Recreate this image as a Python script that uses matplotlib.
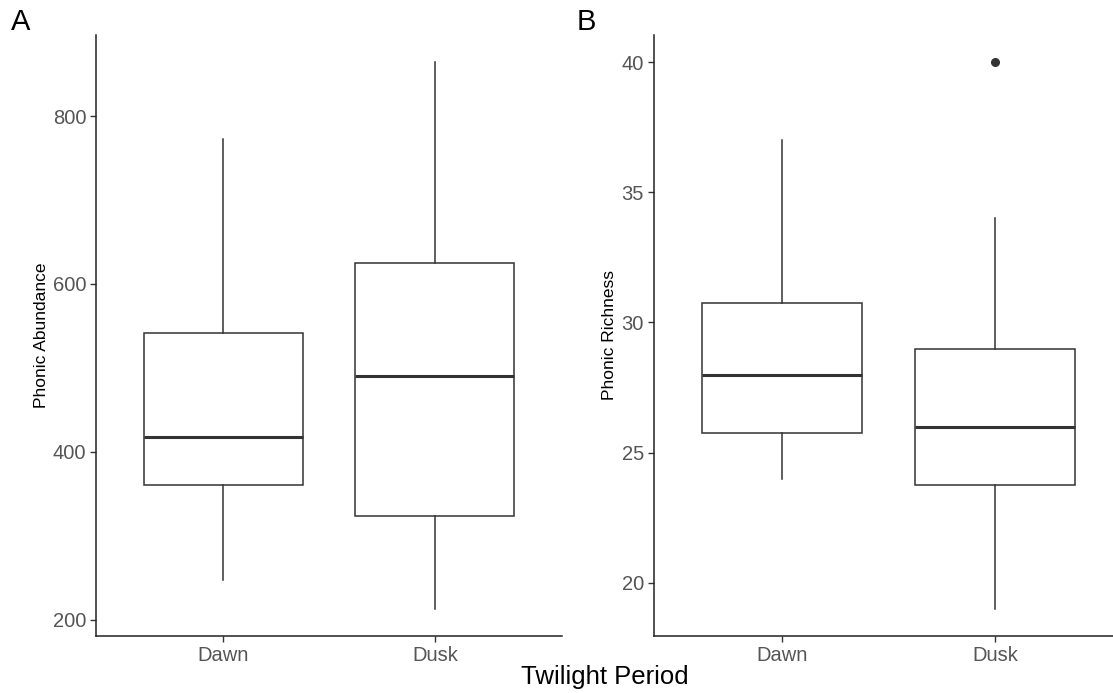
import matplotlib
matplotlib.use("Agg")
import matplotlib.pyplot as plt

plt.rcParams['font.family'] = ['Liberation Sans', 'DejaVu Sans']

# twilight periods on the x axis
periods = ["Dawn", "Dusk"]

# panel A - phonic abundance, box stats
abund_low = [247, 213]
abund_q1 = [360, 324]
abund_med = [418, 490]
abund_q3 = [541, 625]
abund_high = [773, 864]
abund_out = [[], []]

# panel B - phonic richness
rich_low = [24, 19]
rich_q1 = [25.75, 23.75]
rich_med = [28, 26]
rich_q3 = [30.75, 29]
rich_high = [37, 34]
rich_out = [[], [40]]


def make_stats(low, q1, med, q3, high, out):
    stats = []
    for i in range(len(periods)):
        stats.append(dict(label=periods[i], whislo=low[i], q1=q1[i], med=med[i],
                          q3=q3[i], whishi=high[i], fliers=out[i]))
    return stats


def draw_panel(ax, stats, ylab, yticks, labx):
    ink = "#333333"
    ax.bxp(stats, positions=[1, 2], widths=0.75, showcaps=False, patch_artist=True,
           boxprops=dict(facecolor="white", edgecolor=ink, linewidth=1.1),
           whiskerprops=dict(color=ink, linewidth=1.1),
           medianprops=dict(color=ink, linewidth=2.2, solid_capstyle="butt"),
           flierprops=dict(marker="o", markerfacecolor=ink, markeredgecolor=ink,
                           markersize=5.5))
    lo = min(s["whislo"] for s in stats)
    hi = max([s["whishi"] for s in stats] + [f for s in stats for f in s["fliers"]])
    pad = (hi - lo) * 0.05
    ax.set_ylim(lo - pad, hi + pad)
    ax.set_xlim(0.4, 2.6)
    ax.set_yticks(yticks)
    ax.set_xticks([1, 2])
    ax.set_xticklabels(periods)
    for side in ["top", "right"]:
        ax.spines[side].set_visible(False)
    for side in ["left", "bottom"]:
        ax.spines[side].set_linewidth(1.1)
        ax.spines[side].set_color("#222222")
    ax.tick_params(axis="both", length=4, width=1.0, color="#333333",
                   labelcolor="#555555", labelsize=14.5, pad=3)
    ax.set_ylabel(ylab, fontsize=12.5, color="black")
    ax.yaxis.set_label_coords(labx, 0.5)


fig = plt.figure(figsize=(11.13, 6.93), dpi=100)
W, H = 1113.0, 693.0
axA = fig.add_axes([96 / W, 1 - 636 / H, 466 / W, 601 / H])
axB = fig.add_axes([653.5 / W, 1 - 636 / H, 470 / W, 601 / H])

draw_panel(axA, make_stats(abund_low, abund_q1, abund_med, abund_q3, abund_high, abund_out),
           "Phonic Abundance", [200, 400, 600, 800], (49 - 96) / 466)
draw_panel(axB, make_stats(rich_low, rich_q1, rich_med, rich_q3, rich_high, rich_out),
           "Phonic Richness", [20, 25, 30, 35, 40], (617 - 653.5) / 470)

fig.text(11 / W, 1 - 8 / H, "A", fontsize=21, ha="left", va="top")
fig.text(577 / W, 1 - 8 / H, "B", fontsize=21, ha="left", va="top")
fig.text(605 / W, 1 - 677 / H, "Twilight Period", fontsize=18.5, ha="center", va="center")

fig.savefig("out.png", dpi=100)
